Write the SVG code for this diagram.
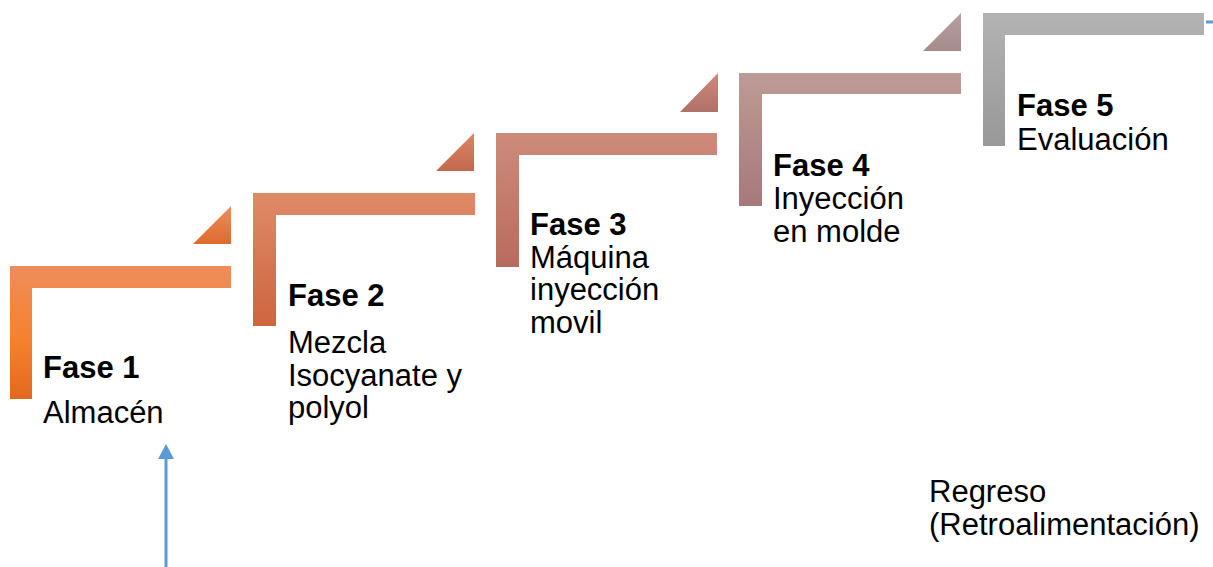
<svg xmlns="http://www.w3.org/2000/svg" width="1213" height="567" viewBox="0 0 1213 567">
<style>
.t{font-family:"Liberation Sans",Arial,sans-serif;font-size:31px;fill:#000}
.b{font-weight:bold}
.blue{stroke:#5b9bd5;stroke-width:3;fill:none}
</style>
<defs>
<linearGradient id="g1" x1="0" y1="0" x2="0" y2="1"><stop offset="0" stop-color="#ee8d5b"/><stop offset="0.55" stop-color="#f5812e"/><stop offset="1" stop-color="#e2691f"/></linearGradient>
<linearGradient id="t1" x1="0" y1="0" x2="0" y2="1"><stop offset="0" stop-color="#ee8e5e"/><stop offset="1" stop-color="#dd6a2c"/></linearGradient>
<linearGradient id="g2" x1="0" y1="0" x2="0" y2="1"><stop offset="0" stop-color="#df8a67"/><stop offset="1" stop-color="#cf6440"/></linearGradient>
<linearGradient id="t2" x1="0" y1="0" x2="0" y2="1"><stop offset="0" stop-color="#dc8566"/><stop offset="1" stop-color="#c2684f"/></linearGradient>
<linearGradient id="g3" x1="0" y1="0" x2="0" y2="1"><stop offset="0" stop-color="#cd8b7b"/><stop offset="1" stop-color="#b86b5c"/></linearGradient>
<linearGradient id="t3" x1="0" y1="0" x2="0" y2="1"><stop offset="0" stop-color="#cc8a7c"/><stop offset="1" stop-color="#b0716a"/></linearGradient>
<linearGradient id="g4" x1="0" y1="0" x2="0" y2="1"><stop offset="0" stop-color="#bd9b96"/><stop offset="1" stop-color="#a6787a"/></linearGradient>
<linearGradient id="t4" x1="0" y1="0" x2="0" y2="1"><stop offset="0" stop-color="#b8a0a0"/><stop offset="1" stop-color="#a48c8d"/></linearGradient>
<linearGradient id="g5" x1="0" y1="0" x2="0" y2="1"><stop offset="0" stop-color="#b3b3b3"/><stop offset="1" stop-color="#989898"/></linearGradient>
</defs>

<g id="fase1">
<path d="M10,266 H231 V288 H32 V399 H10 Z" fill="url(#g1)"/>
<path d="M193,244 L231,206 V244 Z" fill="url(#t1)"/>
<text class="t b" x="43" y="378">Fase 1</text>
<text class="t" x="43" y="423">Almacén</text>
</g>

<g id="fase2">
<path d="M253,193 H475 V215 H276 V326 H253 Z" fill="url(#g2)"/>
<path d="M436,171 L474,133 V171 Z" fill="url(#t2)"/>
<text class="t b" x="288" y="306">Fase 2</text>
<text class="t" x="288" y="353">Mezcla</text>
<text class="t" x="288" y="386">Isocyanate y</text>
<text class="t" x="288" y="418">polyol</text>
</g>

<g id="fase3">
<path d="M496,133 H717 V155 H519 V267 H496 Z" fill="url(#g3)"/>
<path d="M680,112 L718,73 V112 Z" fill="url(#t3)"/>
<text class="t b" x="530" y="235">Fase 3</text>
<text class="t" x="530" y="268">Máquina</text>
<text class="t" x="530" y="300">inyección</text>
<text class="t" x="530" y="333">movil</text>
</g>

<g id="fase4">
<path d="M739,73 H961 V94 H762 V206 H739 Z" fill="url(#g4)"/>
<path d="M923,51 L961,13 V51 Z" fill="url(#t4)"/>
<text class="t b" x="773" y="176">Fase 4</text>
<text class="t" x="773" y="209">Inyección</text>
<text class="t" x="773" y="242">en molde</text>
</g>

<g id="fase5">
<path d="M983,13 H1204 V35 H1005 V146 H983 Z" fill="url(#g5)"/>
<text class="t b" x="1017" y="116">Fase 5</text>
<text class="t" x="1017" y="150">Evaluación</text>
</g>

<g id="regreso">
<text class="t" x="929" y="502">Regreso</text>
<text class="t" x="929" y="535">(Retroalimentación)</text>
</g>

<g id="connectors">
<line class="blue" x1="166" y1="567" x2="166" y2="459"/>
<path d="M158,459 L166,444 L174,459 Z" fill="#5b9bd5"/>
<line class="blue" x1="1206" y1="22" x2="1213" y2="22"/>
</g>
</svg>
